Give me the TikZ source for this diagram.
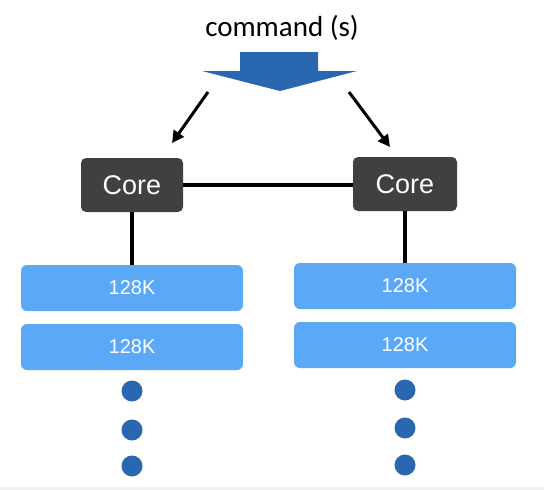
\documentclass[tikz,border=0pt]{standalone}
\usepackage{fontspec}
\setmainfont{Liberation Sans}
\newfontfamily\calib{Carlito}
\usetikzlibrary{arrows.meta}
\definecolor{darkblue}{HTML}{2A67B1}
\definecolor{lightblue}{HTML}{5AA8F6}
\definecolor{coregray}{HTML}{404040}
\definecolor{stripgray}{HTML}{F0F0F2}
\tikzset{
  corebox/.style={fill=coregray, rounded corners=5pt, text=white, font=\fontsize{27}{30}\selectfont, inner sep=0pt},
  membox/.style={fill=lightblue, rounded corners=6pt, text=white, font=\fontsize{20}{22}\selectfont, inner sep=0pt},
  dotc/.style={circle, fill=darkblue, minimum width=20pt, minimum height=21pt, inner sep=0pt},
  link/.style={line width=3.6pt},
  cmdarrow/.style={line width=3pt, -{Triangle[length=12pt,width=12pt]}},
}
\begin{document}
\begin{tikzpicture}[x=1pt,y=-1pt]
\useasboundingbox (0,0) rectangle (544,490);
\fill[white] (0,0) rectangle (544,490);
\fill[stripgray] (0,487) rectangle (544,490);
% title
\node[font=\calib\fontsize{29}{32}\selectfont] (cmd) at (282,28) {command (s)};
% big arrow
\fill[darkblue] (240,52) -- (318,52) -- (318,71) -- (357,71) -- (280,91) -- (202,71) -- (240,71) -- cycle;
\coordinate (la) at (208,92);
\coordinate (ra) at (349,92);
% cores
\node[corebox, minimum width=102pt, minimum height=54pt] (c1) at (132,185) {Core};
\node[corebox, minimum width=104pt, minimum height=54pt] (c2) at (405,184) {Core};
\draw[cmdarrow] (la) -- (172,143);
\draw[cmdarrow] (ra) -- (390,147);
% memory
\node[membox, minimum width=222pt, minimum height=46pt] (m1) at (132,288) {128K};
\node[membox, minimum width=222pt, minimum height=46pt] (m2) at (132,347) {128K};
\node[membox, minimum width=222pt, minimum height=46pt] (m3) at (405,286) {128K};
\node[membox, minimum width=222pt, minimum height=46pt] (m4) at (405,345) {128K};
\draw[link] (c1.east) -- (c1.east -| c2.west);
\draw[link] (c1.south) -- (m1.north);
\draw[link] (c2.south) -- (m3.north);
% dots
\node[dotc] (d1) at (132,391) {};
\node[dotc] (d2) at (132,430) {};
\node[dotc] (d3) at (132,466) {};
\node[dotc] (d4) at (405,390) {};
\node[dotc] (d5) at (405,428) {};
\node[dotc] (d6) at (405,465) {};
\end{tikzpicture}
\end{document}
